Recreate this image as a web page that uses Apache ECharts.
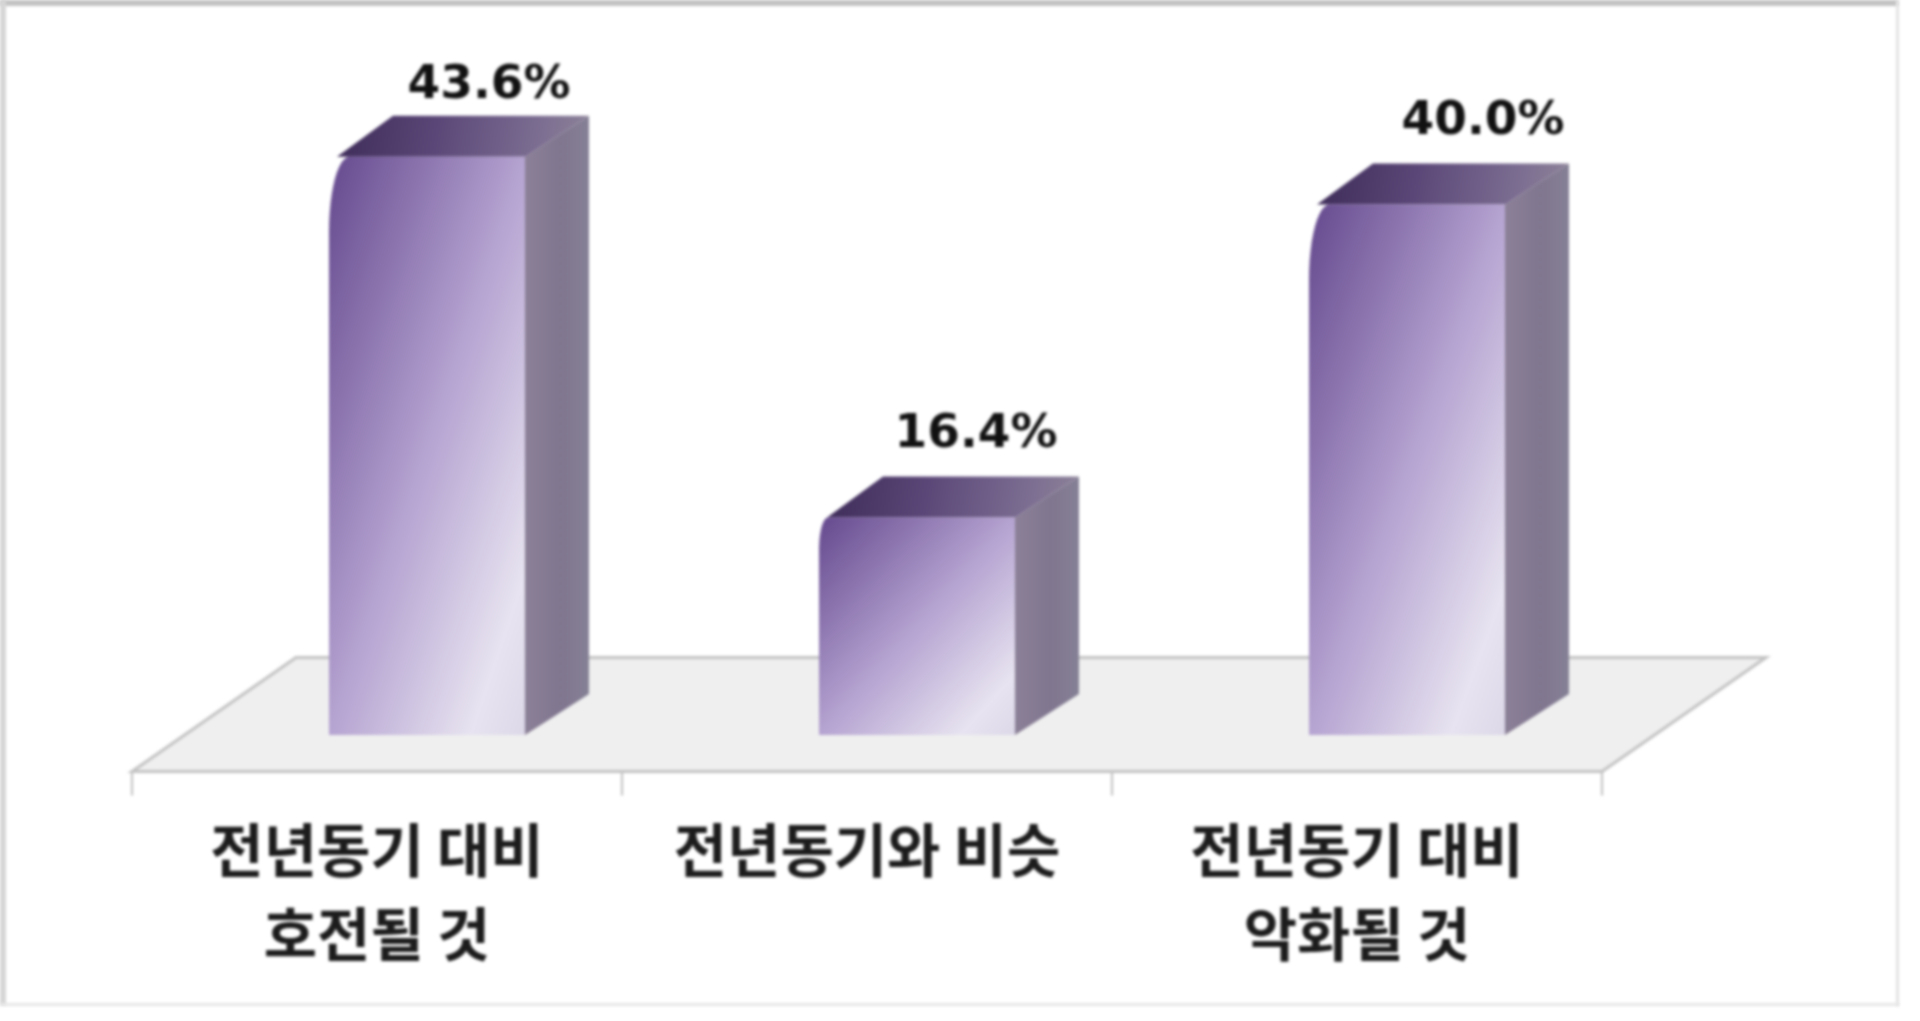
<!DOCTYPE html>
<html><head><meta charset="utf-8">
<style>html,body{margin:0;height:100%;background:#fff;overflow:hidden}
#frame{position:absolute;left:0;top:0;width:1920px;height:1021px;background:#fff}
.edge{position:absolute;filter:blur(1.5px)}
#chart{position:absolute;left:0;top:0;width:1920px;height:1021px;filter:blur(1.8px)}</style>
<script src="https://cdn.jsdelivr.net/npm/echarts@6/dist/echarts.min.js"></script>
</head><body><div id="frame">
<div class="edge" style="left:0;top:0;width:1898px;height:6px;background:#c2c2c2"></div>
<div class="edge" style="left:0;top:0;width:6px;height:1005px;background:#d6d6d6"></div>
<div class="edge" style="left:1896px;top:0;width:3px;height:1006px;background:#e2e2e2"></div>
<div class="edge" style="left:0;top:1003px;width:1899px;height:3px;background:#e6e6e6"></div>
<div id="chart"></div></div>
<script>
const categories = ['전년동기 대비\n호전될 것', '전년동기와 비슷\n ', '전년동기 대비\n악화될 것'];
const values = [43.6, 16.4, 40.0];

const chart = echarts.init(document.getElementById('chart'));
const floorDepth = {dx: 164, dy: 114};
const barShift = {dx: 50, dy: -36.5};
const barDepth = {dx: 64, dy: 41};
const labelNudge = [[62, -30], [59, -42], [76, -42]];

function stopsOf(list) { return list.map(c => ({offset: c[0], color: c[1]})); }
function lg(x0, y0, x1, y1, list) { return new echarts.graphic.LinearGradient(x0, y0, x1, y1, stopsOf(list)); }

// Gradient whose iso-lines run along the box's anti-diagonal, whatever the bar's aspect ratio.
function diagonalFill(x, y, w, h, list) {
  const k = 2 * w * h / (w * w + h * h);
  return new echarts.graphic.LinearGradient(x, y, x + k * h, y + k * w, stopsOf(list), true);
}

function renderFloor(params) {
  const g = params.coordSys;
  const b = g.y + g.height, l = g.x, r = g.x + g.width;
  return {
    type: 'polygon', silent: true,
    shape: {points: [[l, b], [r, b], [r + floorDepth.dx, b - floorDepth.dy], [l + floorDepth.dx, b - floorDepth.dy]]},
    style: {fill: '#efefef', stroke: '#c2c2c2', lineWidth: 3}
  };
}

function renderBar(params, api) {
  const i = params.dataIndex;
  const v = api.value(1);
  const base = api.coord([api.value(0), 0]);
  const h = api.size([0, v])[1];
  const w = api.size([1, 0])[0] * 0.4;
  const x0 = base[0] + barShift.dx - w / 2, x1 = x0 + w;
  const yb = base[1] + barShift.dy, yt = yb - h;
  const dx = barDepth.dx, dy = barDepth.dy;
  const ry = Math.min(75, h * 0.15), rx = ry * 0.27;
  const front = [[x0, yb], [x1, yb], [x1, yt], [x0 + rx, yt]];
  for (let s = 1; s <= 12; s++) {
    const a = s / 12 * Math.PI / 2;
    front.push([x0 + rx * (1 - Math.sin(a)), yt + ry * (1 - Math.cos(a))]);
  }
  return {
    type: 'group',
    children: [
      {type: 'polygon', shape: {points: [[x1, yb], [x1 + dx, yb - dy], [x1 + dx, yt - dy], [x1, yt]]},
       style: {fill: lg(0, 0, 1, 0, [[0, '#8b8097'], [0.55, '#80768f'], [1, '#858095']])}},
      {type: 'polygon', shape: {points: [[x0 + 8, yt], [x1, yt], [x1 + dx, yt - dy], [x0 + dx, yt - dy]]},
       style: {fill: lg(0, 0, 1, 1, [[0, '#3d2b58'], [0.4, '#5c4878'], [0.75, '#78698f'], [1, '#8d8399']])}},
      {type: 'polygon', shape: {points: front},
       style: {fill: diagonalFill(x0, yt, w, h, [[0, '#64488d'], [0.5, '#b5a3d1'], [0.86, '#e7e3f0'], [1, '#dcd8e8']])}},
      {type: 'text', z2: 10,
       style: {x: x0 + w / 2 + labelNudge[i][0], y: yt - dy + labelNudge[i][1], text: v.toFixed(1) + '%',
               align: 'center', verticalAlign: 'middle', font: 'bold 47px "DejaVu Sans"', fill: '#111'}}
    ]
  };
}

chart.setOption({
  animation: false,
  backgroundColor: 'transparent',
  grid: {left: 132, width: 1470, top: 108.5, height: 663},
  xAxis: {
    type: 'category', data: categories,
    axisLine: {show: true, lineStyle: {color: '#c0c0c0', width: 3}},
    axisTick: {show: true, length: 24, lineStyle: {color: '#c0c0c0', width: 2}},
    axisLabel: {interval: 0, margin: 36, color: '#1c1c1c', fontFamily: 'Noto Sans CJK KR', fontWeight: 'bold', fontSize: 58, lineHeight: 84}
  },
  yAxis: {type: 'value', min: 0, max: 50, show: false},
  series: [
    {type: 'custom', coordinateSystem: 'cartesian2d', renderItem: renderFloor, data: [[0, 0]], clip: false, z: 1, silent: true},
    {type: 'custom', coordinateSystem: 'cartesian2d', renderItem: renderBar, data: values.map((v, i) => [i, v]), clip: false, z: 2}
  ]
});
</script></body></html>
